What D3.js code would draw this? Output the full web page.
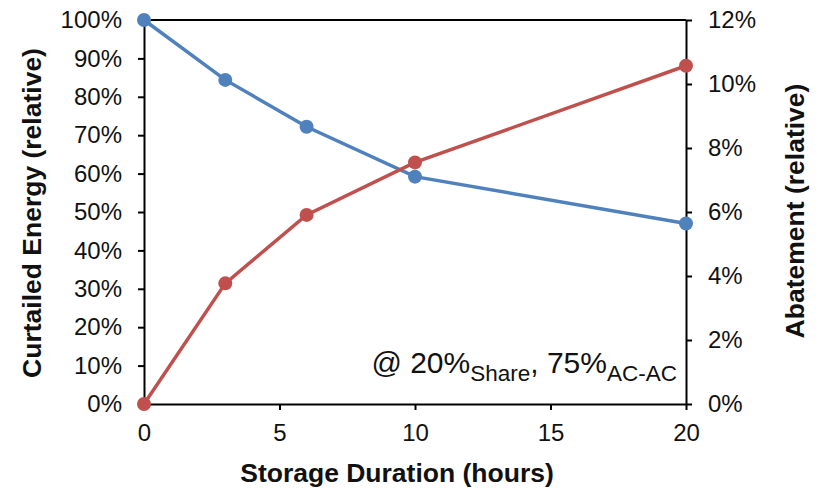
<!DOCTYPE html>
<meta charset="utf-8">
<head>
  <script src="https://d3js.org/d3.v7.min.js"></script>
</head>
<style>
  body { margin: 0; background: #fff; }
  text { font-family: "Liberation Sans", Arial, sans-serif; fill: #111; }
  .axis path, .axis line { stroke: #000; stroke-width: 2; }
  .axis text { font-size: 24px; font-family: "Liberation Sans", Arial, sans-serif; fill: #111; }
</style>
<body>
<script>
  // storage duration (hours)
  var hours = [0, 3, 6, 10, 20];
  // curtailed energy, left axis
  var curtailed = [1.00, 0.844, 0.722, 0.592, 0.470];
  // abatement, right axis
  var abatement = [0.000, 0.0377, 0.0591, 0.0755, 0.1057];
  var xTicks = [0, 5, 10, 15, 20];

  var W = 819, H = 489;
  var pLeft = 144, pRight = 686, pTop = 20, pBottom = 404;

  var svg = d3.select("body").append("svg")
    .attr("width", W).attr("height", H);

  var x = d3.scaleLinear().domain([0, 20]).range([pLeft, pRight]);
  var yL = d3.scaleLinear().domain([0, 1]).range([pBottom, pTop]);
  var yR = d3.scaleLinear().domain([0, 0.12]).range([pBottom, pTop]);

  // top border
  svg.append("line")
    .attr("x1", pLeft).attr("x2", pRight)
    .attr("y1", pTop).attr("y2", pTop)
    .attr("stroke", "#000").attr("stroke-width", 2);

  svg.append("g").attr("class", "axis")
    .attr("transform", "translate(0," + pBottom + ")")
    .call(d3.axisBottom(x).tickValues(xTicks).tickSize(6).tickPadding(14).tickSizeOuter(0));

  svg.append("g").attr("class", "axis")
    .attr("transform", "translate(" + pLeft + ",0)")
    .call(d3.axisLeft(yL).ticks(10).tickFormat(d3.format(".0%")).tickSize(6).tickPadding(16).tickSizeOuter(0));

  svg.append("g").attr("class", "axis")
    .attr("transform", "translate(" + pRight + ",0)")
    .call(d3.axisRight(yR).tickValues(d3.range(0, 0.121, 0.02)).tickFormat(d3.format(".0%")).tickSize(6).tickPadding(16).tickSizeOuter(0));

  // axis titles
  svg.append("text")
    .attr("x", 397).attr("y", 482)
    .attr("text-anchor", "middle")
    .style("font-size", "26.5px").style("font-weight", "bold")
    .text("Storage Duration (hours)");

  svg.append("text")
    .attr("transform", "translate(41,213) rotate(-90)")
    .attr("text-anchor", "middle")
    .style("font-size", "26.5px").style("font-weight", "bold")
    .text("Curtailed Energy (relative)");

  svg.append("text")
    .attr("transform", "translate(804,211) rotate(-90)")
    .attr("text-anchor", "middle")
    .style("font-size", "26.5px").style("font-weight", "bold")
    .text("Abatement (relative)");

  // series
  function drawSeries(vals, y, color) {
    var pts = hours.map(function (h, i) { return [h, vals[i]]; });
    svg.append("path")
      .datum(pts)
      .attr("fill", "none")
      .attr("stroke", color)
      .attr("stroke-width", 3.5)
      .attr("d", d3.line().x(function (d) { return x(d[0]); }).y(function (d) { return y(d[1]); }));
    svg.selectAll(null)
      .data(pts)
      .enter().append("circle")
      .attr("cx", function (d) { return x(d[0]); })
      .attr("cy", function (d) { return y(d[1]); })
      .attr("r", 7)
      .attr("fill", color);
  }
  drawSeries(curtailed, yL, "#4F81BD");
  drawSeries(abatement, yR, "#C0504D");

  // annotation
  var note = svg.append("text")
    .attr("x", 677).attr("y", 373)
    .attr("text-anchor", "end")
    .style("font-size", "30px");
  note.append("tspan").text("@ 20%");
  note.append("tspan").attr("dy", 8).style("font-size", "22.5px").text("Share");
  note.append("tspan").attr("dy", -8).text(", 75%");
  note.append("tspan").attr("dy", 8).style("font-size", "22.5px").text("AC-AC");
</script>
</body>
